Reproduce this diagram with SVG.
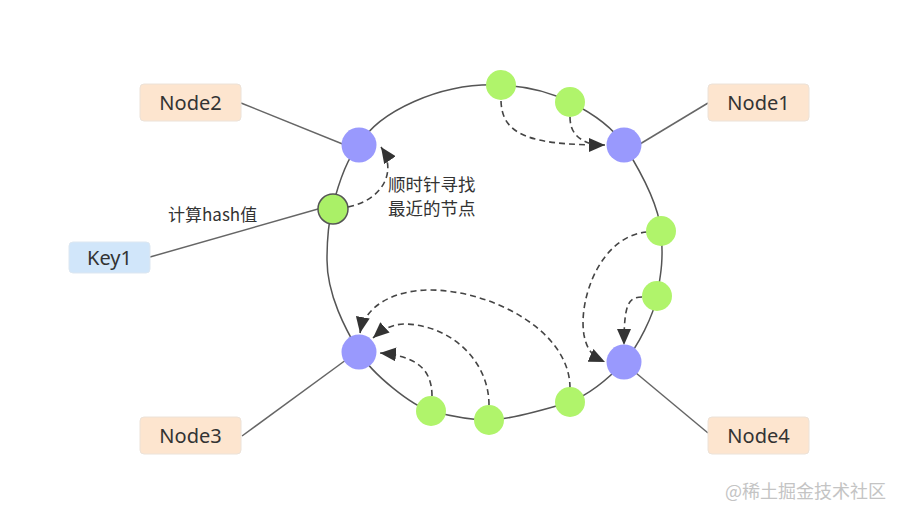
<svg xmlns="http://www.w3.org/2000/svg" width="902" height="521" viewBox="0 0 902 521">
<style>
.ring{fill:none;stroke:#555;stroke-width:1.5}
.link{fill:none;stroke:#666;stroke-width:1.5}
.dash{fill:none;stroke:#444;stroke-width:1.6;stroke-dasharray:6 4}
.box{fill:#fde5cf;stroke:#ece2d8;stroke-width:1}
.kbox{fill:#d1e6fa;stroke:#dde7f1;stroke-width:1}
.lbl{font-family:"Noto Sans","Liberation Sans",sans-serif;font-size:20px;fill:#333;text-anchor:middle}
.cn{font-family:"Noto Sans CJK SC","Noto Sans",sans-serif;fill:#333}
.srv{fill:#9999fd}
.pt{fill:#b0f46b}
.key{fill:#aaf067;stroke:#555;stroke-width:1.5}
</style>
<defs>
<marker id="ah" markerUnits="userSpaceOnUse" markerWidth="17" markerHeight="14" refX="16" refY="7" orient="auto">
<path d="M0,0 L16,7 L0,14 z" fill="#333"/>
</marker>
</defs>
<rect width="902" height="521" fill="#fff"/>
<g id="connectors">
<path id="ring" class="ring" d="M359 145 C378 112 440 82 501 85 C525 86 550 92 570 102 C590 112 612 126 624 145 C636 164 658 200 661 231 C664 262 660 278 657 296 C654 314 638 347 624 362 C610 377 590 394 570 402 C550 408 510 420 489 420 C470 420 450 416 431 411 C412 406 372 374 359 352 C346 330 327 295 327 260 C327 240 328 225 332 209 C336 193 345 160 359 145 Z"/>
<line class="link" x1="241" y1="103" x2="350" y2="147"/>
<line class="link" x1="708" y1="103" x2="630" y2="150"/>
<line class="link" x1="242" y1="436" x2="350" y2="357"/>
<line class="link" x1="708" y1="433" x2="630" y2="368"/>
<line class="link" x1="150" y1="257" x2="325" y2="207"/>
<path class="dash" d="M348 207 C382 200 398 172 381 147" marker-end="url(#ah)"/>
<path class="dash" d="M501 101 C502 135 530 145 605 145" marker-end="url(#ah)"/>
<path class="dash" d="M570 117 C570 132 578 140 592 144"/>
<path class="dash" d="M647 232 C600 236 578 300 584 335 C587 350 592 356 605 362" marker-end="url(#ah)"/>
<path class="dash" d="M642 297 C628 297 624 305 624 345" marker-end="url(#ah)"/>
<path class="dash" d="M570 388 C570 330 490 290 430 290 C395 290 365 305 360 333" marker-end="url(#ah)"/>
<path class="dash" d="M489 405 C489 360 450 325 405 324 C392 324 382 330 373 338" marker-end="url(#ah)"/>
<path class="dash" d="M432 396 C432 368 415 356 380 353" marker-end="url(#ah)"/>
</g>
<g id="Node2"><rect class="box" x="140" y="84" width="101" height="37" rx="4"/><text class="lbl" x="190.5" y="109.5">Node2</text></g>
<g id="Node1"><rect class="box" x="708" y="84" width="101" height="37" rx="4"/><text class="lbl" x="758.5" y="109.5">Node1</text></g>
<g id="Node3"><rect class="box" x="140" y="417" width="101" height="37" rx="4"/><text class="lbl" x="190.5" y="442.5">Node3</text></g>
<g id="Node4"><rect class="box" x="708" y="417" width="101" height="37" rx="4"/><text class="lbl" x="758.5" y="442.5">Node4</text></g>
<g id="Key1"><rect class="kbox" x="69" y="242" width="81" height="31" rx="4"/><text class="lbl" x="109.5" y="264.5">Key1</text></g>
<g id="s-node2"><circle class="srv" cx="359" cy="145" r="17.5"/></g>
<g id="s-node1"><circle class="srv" cx="624" cy="145" r="17.5"/></g>
<g id="s-node4"><circle class="srv" cx="624" cy="362" r="17.5"/></g>
<g id="s-node3"><circle class="srv" cx="359" cy="352" r="17.5"/></g>
<g id="k-key1"><circle class="key" cx="333" cy="209" r="15"/></g>
<g id="p1"><circle class="pt" cx="501" cy="85" r="15"/></g>
<g id="p2"><circle class="pt" cx="570" cy="102" r="15"/></g>
<g id="p3"><circle class="pt" cx="661" cy="231" r="15"/></g>
<g id="p4"><circle class="pt" cx="657" cy="296" r="15"/></g>
<g id="p5"><circle class="pt" cx="570" cy="402" r="15"/></g>
<g id="p6"><circle class="pt" cx="489" cy="420" r="15"/></g>
<g id="p7"><circle class="pt" cx="431" cy="411" r="15"/></g>
<g id="labels">
<text class="cn" x="168" y="221" font-size="17">计算hash值</text>
<text class="cn" x="388" y="191" font-size="17.5">顺时针寻找</text>
<text class="cn" x="388" y="215" font-size="17.5">最近的节点</text>
<text x="725" y="498" font-family="Noto Sans CJK SC, Noto Sans, sans-serif" font-size="18" fill="#c4c4c4">@稀土掘金技术社区</text>
</g>
</svg>
